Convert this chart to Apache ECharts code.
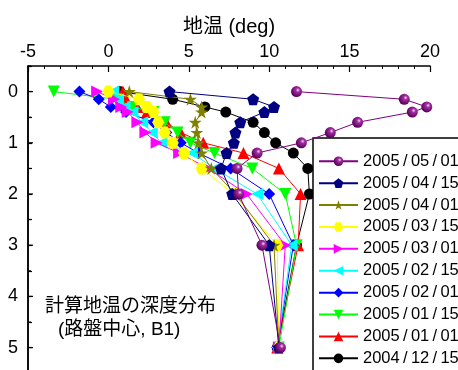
<!DOCTYPE html>
<html>
<head>
<meta charset="utf-8">
<script src="https://cdn.jsdelivr.net/npm/echarts@6/dist/echarts.min.js"></script>
<style>
  html, body { margin: 0; padding: 0; background: #fff; }
  #chart { width: 458px; height: 370px; }
</style>
</head>
<body>
<div id="chart"></div>
<script>
// Depths (m) at which the ground temperature was computed
const depths = [0, 0.15, 0.3, 0.4, 0.6, 0.8, 1.0, 1.2, 1.5, 2.0, 3.0, 5.0];

// Ground temperature (deg) at each depth, one list per date
const t20050501 = [11.7, 18.4, 19.8, 18.9, 15.5, 13.8, 12.0, 9.25, 8.0, 8.1, 9.55, 10.7];
const t20050415 = [3.8, 9.0, 10.3, 9.7, 8.2, 7.9, 7.8, 7.35, 7.0, 7.7, 10.0, 10.6];
const t20050401 = [1.3, 5.1, 5.8, 5.8, 5.4, 5.5, 5.6, 5.8, 6.4, 7.9, 10.3, 10.6];
const t20050315 = [0.0, 1.9, 2.4, 2.8, 3.1, 3.5, 4.0, 4.7, 5.8, 7.8, 10.5, 10.6];
const t20050301 = [-0.7, 0.35, 0.8, 1.2, 1.8, 2.3, 3.0, 4.4, 6.2, 8.6, 11.0, 10.6];
const t20050215 = [0.3, 0.6, 1.0, 1.5, 2.1, 2.7, 3.3, 5.2, 6.6, 9.25, 11.4, 10.5];
const t20050201 = [-1.8, -0.6, 0.15, 1.1, 2.8, 3.6, 4.5, 5.6, 7.6, 10.0, 11.5, 10.5];
const t20050115 = [-3.4, 0.5, 1.5, 2.8, 3.5, 4.3, 5.1, 6.6, 8.95, 11.0, 11.7, 10.6];
const t20050101 = [0.9, 1.1, 1.8, 2.4, 3.6, 4.5, 5.9, 8.4, 10.6, 11.95, 11.8, 10.5];
const t20041215 = [0.7, 4.0, 6.0, 7.3, 9.0, 9.7, 10.4, 11.5, 12.4, 12.5, 11.7, 10.5];

const dates = ['2005/05/01', '2005/04/15', '2005/04/01', '2005/03/15', '2005/03/01',
               '2005/02/15', '2005/02/01', '2005/01/15', '2005/01/01', '2004/12/15'];
const temps = [t20050501, t20050415, t20050401, t20050315, t20050301,
               t20050215, t20050201, t20050115, t20050101, t20041215];

// Axis ticks
const xTicks = [-5, 0, 5, 10, 15, 20];
const yLabels = [0, 1, 2, 3, 4, 5];

// Marker shapes
const PENTAGON = 'path://M5,0 L10,3.63 L8.09,9.51 L1.91,9.51 L0,3.63 Z';
const STAR = 'path://M10,0 L12.245,6.91 L19.511,6.91 L13.633,11.18 L15.878,18.09 L10,13.82 L4.122,18.09 L6.367,11.18 L0.489,6.91 L7.755,6.91 Z';
const HEXAGON = 'path://M0,5 L2.9,0 L8.7,0 L11.6,5 L8.7,10 L2.9,10 Z';
const TRI_RIGHT = 'path://M0,0 L10,5 L0,10 Z';
const TRI_LEFT = 'path://M10,0 L0,5 L10,10 Z';
const TRI_DOWN = 'path://M0,0 L10,0 L5,9 Z';
const TRI_UP = 'path://M5,0 L10,9 L0,9 Z';

const sphere = {
  type: 'radial', x: 0.62, y: 0.36, r: 0.62,
  colorStops: [
    { offset: 0, color: '#f4d8f4' },
    { offset: 0.3, color: '#a22ea2' },
    { offset: 1, color: '#5a005a' }
  ]
};

const styles = [
  { line: '#800080', fill: sphere,    symbol: 'circle',  size: 11 },
  { line: '#000080', fill: '#000080', symbol: PENTAGON,  size: 12 },
  { line: '#808000', fill: '#808000', symbol: STAR,      size: 13 },
  { line: '#FFFF00', fill: '#FFFF00', symbol: HEXAGON,   size: 12 },
  { line: '#FF00FF', fill: '#FF00FF', symbol: TRI_RIGHT, size: 12 },
  { line: '#00FFFF', fill: '#00FFFF', symbol: TRI_LEFT,  size: 12 },
  { line: '#0000FF', fill: '#0000FF', symbol: 'diamond', size: 12 },
  { line: '#00FF00', fill: '#00FF00', symbol: TRI_DOWN,  size: 12 },
  { line: '#FF0000', fill: '#FF0000', symbol: TRI_UP,    size: 12 },
  { line: '#000000', fill: '#000000', symbol: 'circle',  size: 11 }
];

// Oldest profile first so the newest one sits on top
const series = [];
for (let i = dates.length - 1; i >= 0; i--) {
  const s = styles[i];
  series.push({
    name: dates[i],
    type: 'line',
    data: temps[i].map((t, k) => [t, depths[k]]),
    symbol: s.symbol,
    symbolSize: s.size,
    showSymbol: true,
    lineStyle: { color: s.line, width: 1 },
    itemStyle: { color: s.fill, borderWidth: 0 },
    emphasis: { disabled: true },
    z: 2 + (dates.length - i)
  });
}

const FONT = '"Liberation Sans", Arial, "Noto Sans CJK JP", sans-serif';

// 51.2 px per metre of depth; the plot runs down past the bottom edge
const PX_PER_M = 51.2;
const Y_MIN = -0.5;
const GRID_TOP = 66;
const GRID_H = 307;
const Y_MAX = Y_MIN + GRID_H / PX_PER_M;

const chart = echarts.init(document.getElementById('chart'), null, { renderer: 'canvas' });
chart.setOption({
  animation: false,
  backgroundColor: '#ffffff',
  grid: { left: 28, top: GRID_TOP, width: 402, height: GRID_H, containLabel: false, outerBoundsMode: 'none' },
  xAxis: {
    type: 'value',
    position: 'top',
    min: xTicks[0],
    max: xTicks[xTicks.length - 1],
    interval: 5,
    name: '地温 (deg)',
    nameLocation: 'middle',
    nameGap: 29,
    nameTextStyle: { fontFamily: FONT, fontSize: 20, color: '#000' },
    axisLine: { show: true, onZero: false, lineStyle: { color: '#000', width: 1.5 } },
    axisTick: { show: true, inside: true, length: 6, lineStyle: { color: '#000', width: 1.2 } },
    minorTick: { show: true, splitNumber: 5, length: 3, lineStyle: { color: '#000', width: 1 } },
    axisLabel: { fontFamily: FONT, fontSize: 18, color: '#000', margin: 5 },
    splitLine: { show: false }
  },
  // Half-metre ticks from -0.5; only whole metres get a label
  yAxis: {
    type: 'value',
    inverse: true,
    min: Y_MIN,
    max: Y_MAX,
    interval: 0.5,
    axisLine: { show: true, onZero: false, lineStyle: { color: '#000', width: 1.5 } },
    axisTick: { show: true, inside: true, length: 4, lineStyle: { color: '#000', width: 1.2 } },
    axisLabel: {
      fontFamily: FONT, fontSize: 18, color: '#000', margin: 10,
      formatter: (v) => (yLabels.indexOf(v) >= 0 ? String(v) : '')
    },
    splitLine: { show: false }
  },
  legend: {
    orient: 'vertical',
    left: 313,
    top: 138,
    height: 260,
    data: dates,
    backgroundColor: '#fff',
    borderColor: '#000',
    borderWidth: 1.5,
    borderRadius: 0,
    padding: [15, 12, 22, 5],
    itemWidth: 39,
    itemHeight: 12,
    itemGap: 5.4,
    selectedMode: false,
    formatter: (name) => name.split('/').join('\u2009/\u2009'),
    textStyle: { fontFamily: FONT, fontSize: 16.5, color: '#000' }
  },
  graphic: [
    {
      id: 'note1', type: 'text', left: 45, top: 297, z: 100,
      style: { text: '計算地温の深度分布', font: '19px ' + FONT, fill: '#000' }
    },
    {
      id: 'note2', type: 'text', left: 58, top: 320, z: 100,
      style: { text: '(路盤中心, B1)', font: '19px ' + FONT, fill: '#000' }
    }
  ],
  series: series
});

// Left frame line and depth ticks, placed through the grid's own scale
const frame = [];
const xLeft = chart.convertToPixel({ gridIndex: 0 }, [xTicks[0], 0])[0];
const yTop = chart.convertToPixel({ gridIndex: 0 }, [0, Y_MIN])[1];
const yBottom = chart.convertToPixel({ gridIndex: 0 }, [0, Y_MAX])[1];
frame.push({
  id: 'yFrame', type: 'line', z: 50, silent: true,
  shape: { x1: xLeft, y1: yTop, x2: xLeft, y2: yBottom },
  style: { stroke: '#000', lineWidth: 1.5 }
});
for (let k = 0; Y_MIN + k * 0.5 <= Y_MAX + 1e-9; k++) {
  const v = Y_MIN + k * 0.5;
  const y = chart.convertToPixel({ gridIndex: 0 }, [0, v])[1];
  const major = yLabels.indexOf(v) >= 0;
  frame.push({
    id: 'yTick' + k, type: 'line', z: 50, silent: true,
    shape: { x1: xLeft, y1: y, x2: xLeft + (major ? 5 : 3), y2: y },
    style: { stroke: '#000', lineWidth: major ? 1.2 : 1 }
  });
}
chart.setOption({ graphic: frame });
</script>
</body>
</html>
